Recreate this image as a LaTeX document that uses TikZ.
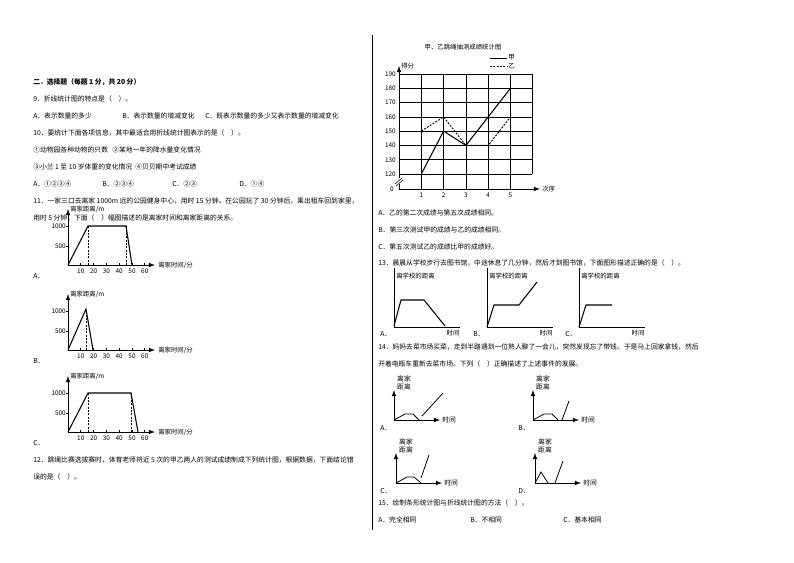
\documentclass[tikz,border=0pt]{standalone}
\usepackage{fontspec}
\setmainfont{Noto Sans CJK SC}
\begin{document}
\begin{tikzpicture}[x=0.75pt,y=-0.75pt,
  t/.style={anchor=west,inner sep=0pt,font=\fontsize{5.1}{6}\selectfont},
  s/.style={inner sep=0pt,font=\fontsize{4.8}{5.4}\selectfont},
  ax/.style={line width=0.6pt,-latex},
  ln/.style={line width=0.8pt},
  dl/.style={line width=0.5pt,dashed,dash pattern=on 1.5pt off 1pt}]
\useasboundingbox (0,0) rectangle (794,562);
\fill[white] (0,0) rectangle (794,562);
\draw[line width=0.5pt] (372,35) -- (372,530);
% left text
\node[t] (l1) at (33,82) {\textbf{二．选择题（每题 1 分，共 20 分）}};
\node[t] (l2) at (33,99) {9．折线统计图的特点是（\quad ）。};
\node[t] (l3a) at (33,116) {A．表示数量的多少};
\node[t] (l3b) at (122,116) {B．表示数量的增减变化};
\node[t] (l3c) at (205,116) {C．既表示数量的多少又表示数量的增减变化};
\node[t] (l4) at (33,133) {10．要统计下面各项信息，其中最适合用折线统计图表示的是（\quad ）。};
\node[t] (l5a) at (33,150) {①动物园各种动物的只数};
\node[t] (l5b) at (112,150) {②某地一年的降水量变化情况};
\node[t] (l6) at (33,167) {③小兰 1 至 10 岁体重的变化情况\ \ ④贝贝期中考试成绩};
\node[t] (l7a) at (33,184) {A．①②③④};
\node[t] (l7b) at (102,184) {B．②③④};
\node[t] (l7c) at (172,184) {C．②③};
\node[t] (l7d) at (239,184) {D．①④};
\node[t] (l8) at (33,201) {11．一家三口去离家 1000m 远的公园健身中心，用时 15 分钟。在公园玩了 30 分钟后，乘出租车回到家里，};
\node[t] (l9) at (33,218) {用时 5 分钟，下面（\quad ）幅图描述的是离家时间和离家距离的关系。};
% graphs 11
\foreach \oy/\lab/\pts/\dsh in {265/A/{(68,265)--(88,226)--(126,226)--(132,265)}/{88,126},350/B/{(68,350)--(86,309)--(93,350)}/{86},432/C/{(68,432)--(88,393)--(131,393)--(138,432)}/{88,131}}{
  \draw[ax] (68,\oy) -- (155,\oy);
  \draw[ax] (68,\oy) -- (68,\oy-56);
  \node[s,anchor=west] at (70,\oy-56) {离家距离/m};
  \node[s,anchor=west] at (158,\oy) {离家时间/分};
  \draw[line width=0.5pt] (66,\oy-39) -- (68,\oy-39) (66,\oy-19) -- (68,\oy-19);
  \node[s,anchor=east] at (66,\oy-39) {1000};
  \node[s,anchor=east] at (66,\oy-19) {500};
  \foreach \k in {1,...,6}{
    \draw[line width=0.5pt] (68+\k*12.8,\oy) -- (68+\k*12.8,\oy-2);
    \node[s] at (68+\k*12.8,\oy+6) {\the\numexpr\k*10\relax};}
  \draw[ln] \pts;
  \foreach \d in \dsh {\draw[dl] (\d,\oy) -- (\d,\oy-39);}
  \node[t] at (33,\oy+11) {\lab．};
}
\node[t] (l10) at (33,460) {12．跳绳比赛选拔赛时，体育老师将近 5 次的甲乙两人的测试成绩制成下列统计图，根据数据，下面结论错};
\node[t] (l11) at (33,477) {误的是（\quad ）。};
% right chart
\node[s] (ct) at (463,47) {甲、乙跳绳抽测成绩统计图};
\foreach \i in {0,...,7}{
  \draw[line width=0.4pt] (399,74+\i*14.286) -- (532,74+\i*14.286);
  \node[s,anchor=east] at (396,74+\i*14.286) {\the\numexpr190-\i*10\relax};}
\foreach \i in {1,...,5}{
  \draw[line width=0.4pt] (399+\i*22.3,74) -- (399+\i*22.3,189);
  \node[s] at (399+\i*22.3,195) {\i};}
\draw[line width=0.4pt] (532,74) -- (532,174);
\draw[ax] (399,189) -- (540,189);
\draw[ax] (399,189) -- (399,66);
\fill[white] (396,178) rectangle (402,184);
\draw[line width=0.4pt] (395,184) -- (402,178) (396,186)--(403,180);
\node[s,anchor=west] at (401,66) {得分};
\node[s,anchor=west] at (542,189) {次序};
\node[s,anchor=east] at (394,189) {0};
\draw[line width=0.6pt] (490,58) -- (507,58);
\node[s,anchor=west] at (508,57) {甲};
\draw[dl] (490,66) -- (507,66);
\node[s,anchor=west] at (508,66) {乙};
\draw[ln] (421.3,174) -- (443.6,131.1) -- (465.9,145.4) -- (488.2,116.9) -- (510.5,88.3);
\draw[dl,line width=0.7pt] (421.3,131.1) -- (443.6,116.9) -- (465.9,145.4) -- (488.2,145.4) -- (510.5,116.9);
% right text
\node[t] (r1) at (378,213) {A．乙的第二次成绩与第五次成绩相同。};
\node[t] (r2) at (378,230) {B．第三次测试甲的成绩与乙的成绩相同。};
\node[t] (r3) at (378,247) {C．第五次测试乙的成绩比甲的成绩好。};
\node[t] (r4) at (378,263) {13．晨晨从学校步行去图书馆，中途休息了几分钟，然后才到图书馆，下面图形描述正确的是（\quad ）。};
\foreach \x/\lab/\pts in {394/A/{(394,326)--(401,300)--(424,300)--(445,326)},487/B/{(487,327)--(494,305)--(519,305)--(537,282)},579/C/{(579,327)--(586,305)--(612,305)}}{
  \draw[line width=0.5pt] (\x,268) -- (\x,327) -- (\x+66,327);
  \node[s,anchor=west] at (\x+2,276) {离学校的距离};
  \draw[ln] \pts;
  \node[s] at (\x+59,333) {时间};
  \node[t] at (\x-14,334) {\lab．};
}
\node[t] (r5) at (378,347) {14．妈妈去菜市场买菜，走到半路遇到一位熟人聊了一会儿，突然发现忘了带钱。于是马上回家拿钱，然后};
\node[t] (r6) at (378,364) {开着电瓶车重新去菜市场。下列（\quad ）正确描述了上述事件的发展。};
\foreach \ox/\oy/\lx/\lab/\pts in {394/420/380/A/{(394,420)--(405,414)--(413,414)--(419,420) (422,416)--(443,393)},533/420/518/B/{(533,420)--(544,414)--(552,414)--(558,420) (562,420)--(569,401)},396/483/380/C/{(396,483)--(407,477)--(414,477)--(421,483) (421,478)--(429,455)},535/483/518/D/{(535,483)--(541,472)--(548,483) (555,483)--(563,461)}}{
  \draw[ax] (\ox,\oy) -- (\ox+46,\oy);
  \draw[ax] (\ox,\oy) -- (\ox,\oy-30);
  \node[t,anchor=west] at (\ox+48,\oy) {时间};
  \node[t,anchor=center,align=center] at (\ox+10,\oy-37) {离家\\距离};
  \draw[line width=0.6pt] \pts;
  \node[t] at (\lx,\oy+8) {\lab．};
}
\node[t] (r7) at (378,503) {15．绘制条形统计图与折线统计图的方法（\quad ）。};
\node[t] (r8a) at (378,520) {A．完全相同};
\node[t] (r8b) at (470,520) {B．不相同};
\node[t] (r8c) at (563,520) {C．基本相同};
\end{tikzpicture}
\end{document}
